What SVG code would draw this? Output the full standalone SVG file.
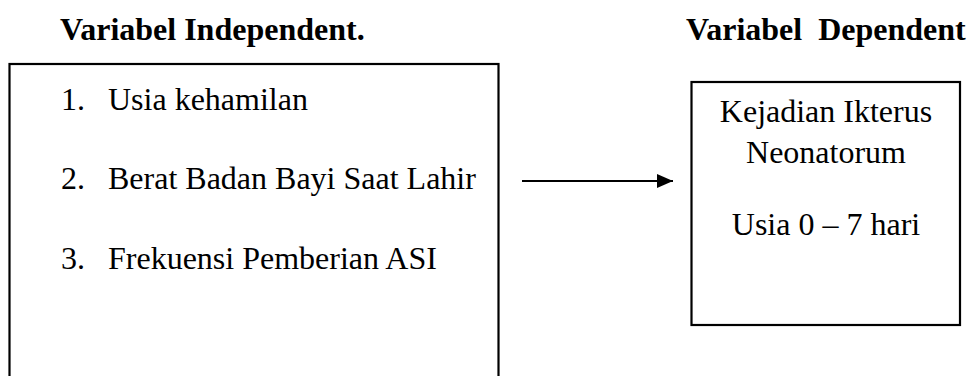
<svg xmlns="http://www.w3.org/2000/svg" width="970" height="376" viewBox="0 0 970 376">
<style>
.t{font-family:"Liberation Serif","Times New Roman",serif;font-size:32px;fill:#000;white-space:pre}
.b{font-weight:bold}
.box{fill:#fff;stroke:#000;stroke-width:2.2}
.c{text-anchor:middle}
</style>
<defs>
<marker id="ah" markerWidth="16" markerHeight="14" refX="16" refY="7" orient="auto" markerUnits="userSpaceOnUse" viewBox="0 0 16 14">
<path d="M0,0 L16,7 L0,14 Z" fill="#000"/>
</marker>
</defs>
<rect width="970" height="376" fill="#fff"/>
<g id="title-independent"><text class="t b" x="60" y="40">Variabel Independent.</text></g>
<g id="title-dependent"><text class="t b" x="686" y="40" xml:space="preserve">Variabel  Dependent</text></g>
<g id="independent">
<rect class="box" x="9.5" y="64" width="489" height="400"/>
<text class="t" x="61" y="110">1.</text><text class="t" x="108" y="110">Usia kehamilan</text>
<text class="t" x="61" y="189">2.</text><text class="t" x="108" y="189">Berat Badan Bayi Saat Lahir</text>
<text class="t" x="61" y="269">3.</text><text class="t" x="108" y="269">Frekuensi Pemberian ASI</text>
</g>
<g id="dependent">
<rect class="box" x="691.5" y="82" width="268.5" height="243"/>
<text class="t c" x="826" y="122">Kejadian Ikterus</text>
<text class="t c" x="826" y="163">Neonatorum</text>
<text class="t c" x="826" y="235">Usia 0 – 7 hari</text>
</g>
<g id="connectors">
<line x1="522" y1="181" x2="673" y2="181" stroke="#000" stroke-width="2.2" marker-end="url(#ah)"/>
</g>
</svg>
